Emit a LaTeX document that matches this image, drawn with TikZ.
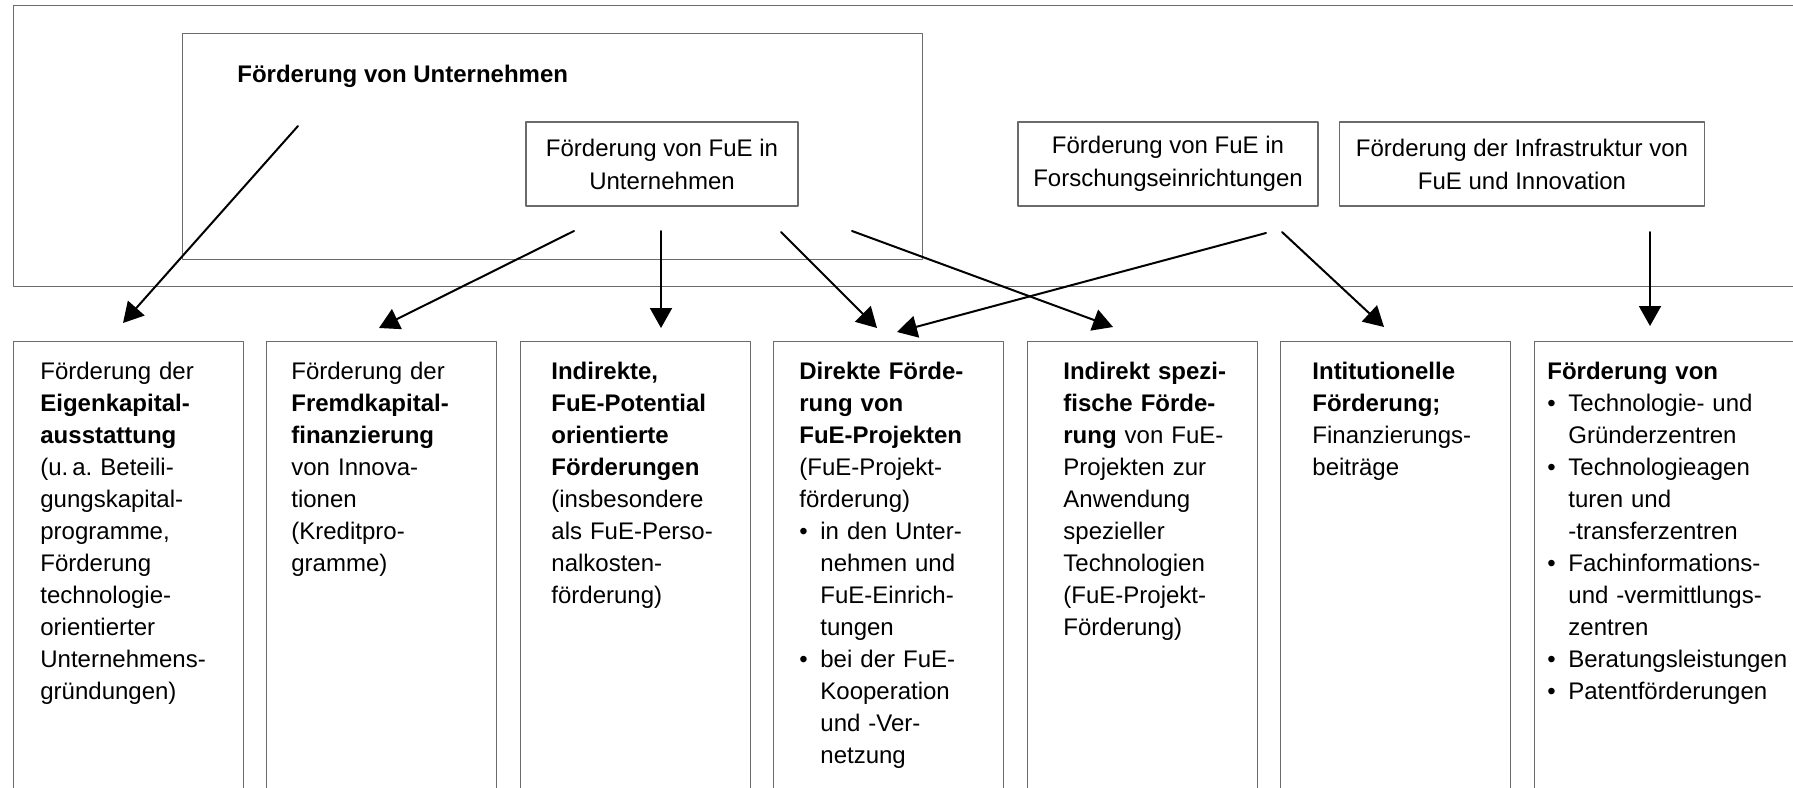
\documentclass[tikz,border=0pt]{standalone}
\usepackage{fontspec}
\setmainfont{Liberation Sans}
\usetikzlibrary{arrows.meta}
\definecolor{rahmengrau}{gray}{0.42}
\newcommand{\punkt}{\makebox[10.5pt][l]{\textbullet}}
\newcommand{\einr}{\hspace*{10.5pt}}

\begin{document}
\begin{tikzpicture}[line cap=round,line join=round,>={Triangle[length=10pt,width=11pt]},x=0.5pt,y=-0.5pt,
  rahmen/.style={draw=rahmengrau,line width=0.6pt,inner sep=0pt,anchor=north west},
  kasten/.style={rahmen,minimum width=115pt,minimum height=250pt},
  obenbox/.style={draw=rahmengrau,line width=0.6pt,inner sep=0pt,align=center,font=\fontsize{12pt}{16.5pt}\selectfont},
  txt/.style={anchor=north west,inner sep=0pt,text width=130pt,align=left,font=\fontsize{12pt}{16pt}\selectfont,execute at begin node={\rule{0pt}{10pt}}},
  pfeil/.style={->,line width=1pt}]
\useasboundingbox (0,0) rectangle (1793,787);
\clip (0,0) rectangle (1793,787);
% obere Ebene
\node[rahmen,minimum width=893.75pt,minimum height=140.25pt] (aussen) at (12.5,5) {};
\node[rahmen,minimum width=370.25pt,minimum height=112.75pt] (unternehmen) at (181.5,33) {};
\node[anchor=base west,inner sep=0pt,font=\fontsize{12pt}{16pt}\selectfont\bfseries] (titel) at (237,82) {Förderung von Unternehmen};
\node[obenbox,minimum width=136pt,minimum height=42pt] (fueu) at (662,164) {Förderung von FuE in\\Unternehmen};
\node[obenbox,minimum width=150pt,minimum height=42pt] (fuef) at (1168,164) {Förderung von FuE in\\Forschungseinrichtungen};
\node[obenbox,minimum width=182.75pt,minimum height=42pt] (infrastr) at (1522,164) {Förderung der Infrastruktur von\\FuE und Innovation};
% untere Kaesten
\node[kasten] (eigen) at (12.5,341) {};
\node[kasten] (fremd) at (266,341) {};
\node[kasten] (indir) at (519.5,341) {};
\node[kasten] (direkt) at (773,341) {};
\node[kasten] (spez) at (1026.5,341) {};
\node[kasten] (inst) at (1280,341) {};
\node[kasten,minimum width=135pt] (infra) at (1533.5,341) {};
\node[txt] (eigentxt) at (40,359) {Förderung der\\\textbf{Eigenkapital-}\\\textbf{ausstattung}\\(u.\,a.\ Beteili-\\gungskapital-\\programme,\\Förderung\\technologie-\\orientierter\\Unternehmens-\\gründungen)};
\node[txt] (fremdtxt) at (291,359) {Förderung der\\\textbf{Fremdkapital-}\\\textbf{finanzierung}\\von Innova-\\tionen\\(Kreditpro-\\gramme)};
\node[txt] (indirtxt) at (551,359) {\textbf{Indirekte,}\\\textbf{FuE-Potential}\\\textbf{orientierte}\\\textbf{Förderungen}\\(insbesondere\\als FuE-Perso-\\nalkosten-\\förderung)};
\node[txt] (direkttxt) at (799,359) {\textbf{Direkte Förde-}\\\textbf{rung von}\\\textbf{FuE-Projekten}\\(FuE-Projekt-\\förderung)\\\punkt in den Unter-\\\einr nehmen und\\\einr FuE-Einrich-\\\einr tungen\\\punkt bei der FuE-\\\einr Kooperation\\\einr und -Ver-\\\einr netzung};
\node[txt] (speztxt) at (1063,359) {\textbf{Indirekt spezi-}\\\textbf{fische Förde-}\\\textbf{rung} von FuE-\\Projekten zur\\Anwendung\\spezieller\\Technologien\\(FuE-Projekt-\\Förderung)};
\node[txt] (insttxt) at (1312,359) {\textbf{Intitutionelle}\\\textbf{Förderung;}\\Finanzierungs-\\beiträge};
\node[txt] (infratxt) at (1547,359) {\textbf{Förderung von}\\\punkt Technologie- und\\\einr Gründerzentren\\\punkt Technologieagen\\\einr turen und\\\einr -transferzentren\\\punkt Fachinformations-\\\einr und -vermittlungs-\\\einr zentren\\\punkt Beratungsleistungen\\\punkt Patentförderungen};
% Pfeile
\coordinate (s1) at (298,126); \coordinate (z1) at (123,323);
\coordinate (s2) at (574,231); \coordinate (z2) at (379,328);
\coordinate (s3) at (661,231); \coordinate (z3) at (661,328);
\coordinate (s4) at (781,232); \coordinate (z4) at (877,328);
\coordinate (s5) at (852,231); \coordinate (z5) at (1113,327);
\coordinate (s6) at (1266,233); \coordinate (z6) at (897,332);
\coordinate (s7) at (1282,232); \coordinate (z7) at (1384,327);
\coordinate (s8) at (1650,232); \coordinate (z8) at (1650,326);
\draw[pfeil] (s1) -- (z1);
\draw[pfeil] (s2) -- (z2);
\draw[pfeil] (s3) -- (z3);
\draw[pfeil] (s4) -- (z4);
\draw[pfeil] (s5) -- (z5);
\draw[pfeil] (s6) -- (z6);
\draw[pfeil] (s7) -- (z7);
\draw[pfeil] (s8) -- (z8);
\end{tikzpicture}
\end{document}
